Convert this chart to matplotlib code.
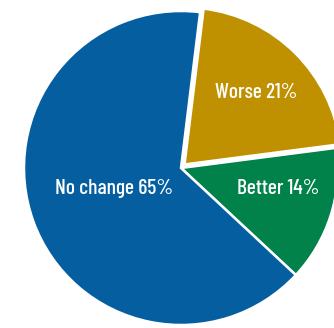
import matplotlib

matplotlib.use("Agg")
import matplotlib.pyplot as plt

labels = ["Worse 21%", "Better 14%", "No change 65%"]
shares = [21, 14, 65]
colors = ["#BF9000", "#00824A", "#055EA0"]

# label offsets from the pie centre, in pixels
label_offsets = [(75, 76), (97, -20), (-67, -21)]

W, H = 334, 328
fig = plt.figure(figsize=(W / 100, H / 100), dpi=100)
ax = fig.add_axes([0, 0, 1, 1])

cx, cy, r = 181, 160, 157

ax.pie(
    shares,
    colors=colors,
    startangle=83,
    counterclock=False,
    center=(cx, cy),
    radius=r,
    explode=[5, 0, 0],
    wedgeprops={"edgecolor": "white", "linewidth": 1.8},
    frame=True,
)
ax.set_xlim(0, W)
ax.set_ylim(0, H)
ax.set_aspect("equal")
ax.axis("off")

for text, (dx, dy) in zip(labels, label_offsets):
    ax.text(cx + dx, cy + dy, text, ha="center", va="center",
            color="white", fontsize=15.5, fontweight="medium",
            family=["Barlow Condensed", "DejaVu Sans"])

fig.savefig("out.png", dpi=100)
